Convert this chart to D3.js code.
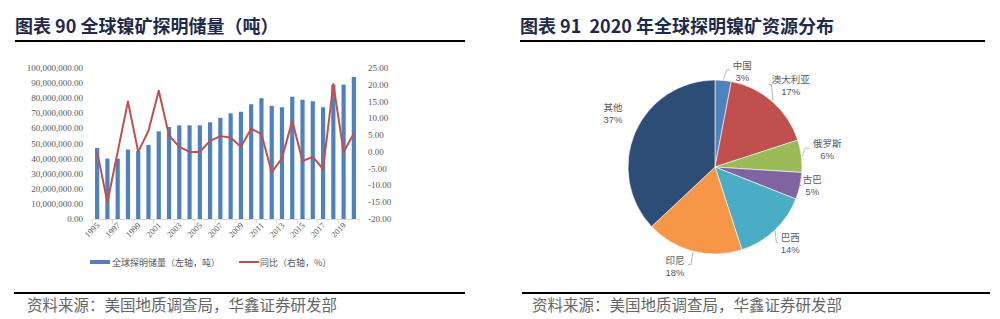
<!DOCTYPE html>
<html>
<head>
<meta charset="utf-8">
<script src="https://cdn.jsdelivr.net/npm/d3@7"></script>
<style>
  body { margin: 0; background: #fff; }
  svg { display: block; }
</style>
</head>
<body>
<svg id="chart" width="1000" height="319"></svg>
<script>
// left chart: global proven nickel reserves
var years = ["1995","1996","1997","1998","1999","2000","2001","2002","2003","2004","2005","2006","2007",
             "2008","2009","2010","2011","2012","2013","2014","2015","2016","2017","2018","2019","2020"];
var reserves = [47e6, 40e6, 40e6, 46e6, 45e6, 49e6, 58e6, 61e6, 62e6, 62e6, 62e6, 64e6, 67e6,
                70e6, 71e6, 76e6, 80e6, 75e6, 74e6, 81e6, 79e6, 78e6, 74e6, 89e6, 89e6, 94e6];
var yoy = [0, -15, 0, 15, 0, 6.3, 18.2, 4.9, 1.5, 0, 0, 3.3, 4.7,
           4.3, 1.5, 6.9, 5.3, -6.1, -1.9, 9.3, -2.7, -1.5, -5.1, 20.2, 0, 5.5];
var leftTicks = [0, 10e6, 20e6, 30e6, 40e6, 50e6, 60e6, 70e6, 80e6, 90e6, 100e6];
var rightTicks = [-20, -15, -10, -5, 0, 5, 10, 15, 20, 25];
var legendNames = ["全球探明储量（左轴，吨）", "同比（右轴，%）"];

// right chart: 2020 distribution
var countries = ["中国", "澳大利亚", "俄罗斯", "古巴", "巴西", "印尼", "其他"];
var shares = [3, 17, 6, 5, 14, 18, 37];
var sliceColors = ["#4f81bd", "#c0504d", "#9bbb59", "#8064a2", "#4bacc6", "#f79646", "#2c4d75"];

var titles = ["图表 90 全球镍矿探明储量（吨）", "图表 91  2020 年全球探明镍矿资源分布"];
var source = "资料来源：美国地质调查局，华鑫证券研发部";

var svg = d3.select("#chart");
var grey = "#595959";
var cjk = "'Noto Sans CJK SC', sans-serif";
var num = "'Liberation Serif', 'Noto Sans CJK SC', serif";

// headers and footers
[[15, 465, 15], [520, 985, 520]].forEach(function(p, i) {
  svg.append("text")
     .attr("x", p[2]).attr("y", 33)
     .attr("xml:space", "preserve")
     .style("white-space", "pre")
     .attr("font-family", cjk).attr("font-weight", "bold")
     .attr("font-size", 18).attr("fill", "#1f2a4a")
     .text(titles[i]);
  svg.append("line")
     .attr("x1", p[0]).attr("x2", p[1]).attr("y1", 41).attr("y2", 41)
     .attr("stroke", "#000").attr("stroke-width", 2);
});
[[14, 465, 27], [522, 990, 532]].forEach(function(p) {
  svg.append("line")
     .attr("x1", p[0]).attr("x2", p[1]).attr("y1", 293).attr("y2", 293)
     .attr("stroke", "#000").attr("stroke-width", 2);
  svg.append("text")
     .attr("x", p[2]).attr("y", 311)
     .attr("font-family", cjk).attr("font-size", 15.5).attr("fill", "#666")
     .text(source);
});

// ---- bar + line chart ----
var x = d3.scaleBand().domain(years).range([92, 359]).padding(0);
var yL = d3.scaleLinear().domain([0, 100e6]).range([219, 68]);
var yR = d3.scaleLinear().domain([-20, 25]).range([219, 68]);
var cx = function(d) { return x(d) + x.bandwidth() / 2; };

var fmtL = d3.format(",.2f");
svg.append("g").selectAll("text")
   .data(leftTicks).enter().append("text")
   .attr("x", 83).attr("y", function(d) { return yL(d) + 3; })
   .attr("text-anchor", "end")
   .attr("font-family", num).attr("font-size", 9).attr("fill", grey)
   .text(function(d) { return fmtL(d); });

svg.append("g").selectAll("text")
   .data(rightTicks).enter().append("text")
   .attr("x", 368).attr("y", function(d) { return yR(d) + 3; })
   .attr("font-family", num).attr("font-size", 9).attr("fill", grey)
   .text(function(d) { return d.toFixed(2); });

// x axis line and ticks
svg.append("line")
   .attr("x1", 92).attr("x2", 359).attr("y1", 219.5).attr("y2", 219.5)
   .attr("stroke", "#d9d9d9");
svg.append("g").selectAll("line")
   .data(years.filter(function(d, i) { return i % 2 == 0; }).concat(["end"]))
   .enter().append("line")
   .attr("x1", function(d) { return d == "end" ? 359 : x(d); })
   .attr("x2", function(d) { return d == "end" ? 359 : x(d); })
   .attr("y1", 219.5).attr("y2", 223.5)
   .attr("stroke", "#d9d9d9");

svg.append("g").selectAll("text")
   .data(years.filter(function(d, i) { return i % 2 == 0; }))
   .enter().append("text")
   .attr("transform", function(d) { return "translate(" + (cx(d) + 3) + ",226) rotate(-45)"; })
   .attr("text-anchor", "end")
   .attr("font-family", num).attr("font-size", 8.5).attr("fill", grey)
   .text(function(d) { return d; });

var barW = 4.2;
svg.append("g").selectAll("rect")
   .data(years).enter().append("rect")
   .attr("x", function(d) { return cx(d) - barW / 2; })
   .attr("width", barW)
   .attr("y", function(d, i) { return yL(reserves[i]); })
   .attr("height", function(d, i) { return yL(0) - yL(reserves[i]); })
   .attr("fill", "#4f81bd");

var line = d3.line()
   .x(function(d, i) { return cx(years[i]); })
   .y(function(d) { return yR(d); });
svg.append("path")
   .datum(yoy)
   .attr("d", line)
   .attr("fill", "none")
   .attr("stroke", "#c0504d")
   .attr("stroke-width", 2)
   .attr("stroke-linejoin", "round");

// legend
var legend = svg.append("g").attr("font-family", cjk).attr("font-size", 9).attr("fill", grey);
legend.append("rect").attr("x", 90).attr("y", 260).attr("width", 20).attr("height", 4).attr("fill", "#4f81bd");
legend.append("text").attr("x", 112).attr("y", 265.5).text(legendNames[0]);
legend.append("line").attr("x1", 239).attr("x2", 259).attr("y1", 262).attr("y2", 262)
      .attr("stroke", "#c0504d").attr("stroke-width", 2);
legend.append("text").attr("x", 260).attr("y", 265.5).text(legendNames[1]);

// ---- pie chart ----
var pcx = 715, pcy = 167, r = 87;
var pie = d3.pie().sort(null).value(function(d) { return d; });
var arcs = pie(shares);
var arc = d3.arc().innerRadius(0).outerRadius(r);

var pg = svg.append("g").attr("transform", "translate(" + pcx + "," + pcy + ")");
pg.selectAll("path")
  .data(arcs).enter().append("path")
  .attr("d", arc)
  .attr("fill", function(d, i) { return sliceColors[i]; })
  .attr("stroke", "#fff").attr("stroke-width", 0.6);

// label placement: polar at radius 110 plus small nudges
var nudge = [[17, 13.5], [3, 1], [3, -4], [-10, -5.5], [0, -4], [-12.6, -8], [-1, -10]];
var labelPos = arcs.map(function(d, i) {
  var a = (d.startAngle + d.endAngle) / 2;
  return [110 * Math.sin(a) + nudge[i][0], -110 * Math.cos(a) + nudge[i][1], a];
});

pg.selectAll("polyline")
  .data(arcs).enter().append("polyline")
  .filter(function(d, i) { return i != 3; })
  .attr("points", function(d, i) {
    var a = labelPos[i][2];
    var p0 = [(r + 1) * Math.sin(a), -(r + 1) * Math.cos(a)];
    var right = labelPos[i][0] > 0;
    var w = countries[i].length * 4.8 + 3;
    var p2 = [labelPos[i][0] + (right ? -w : w), labelPos[i][1] - 1];
    var p1 = [p0[0] + (p2[0] - p0[0]) * 0.4, p2[1]];
    if (i == 0) p1 = [p2[0] - 3, p2[1]];
    return [p0, p1, p2].join(" ");
  })
  .attr("fill", "none").attr("stroke", "#a6a6a6").attr("stroke-width", 0.8);

var lbl = pg.selectAll("g.lbl")
  .data(arcs).enter().append("g").attr("class", "lbl")
  .attr("transform", function(d, i) { return "translate(" + labelPos[i][0] + "," + labelPos[i][1] + ")"; })
  .attr("text-anchor", "middle").attr("fill", grey);
lbl.append("text").attr("y", -2).attr("font-family", cjk).attr("font-size", 9.5)
   .text(function(d, i) { return countries[i]; });
lbl.append("text").attr("y", 10).attr("font-family", "'Liberation Sans', sans-serif").attr("font-size", 9.5)
   .text(function(d, i) { return shares[i] + "%"; });
</script>
</body>
</html>
